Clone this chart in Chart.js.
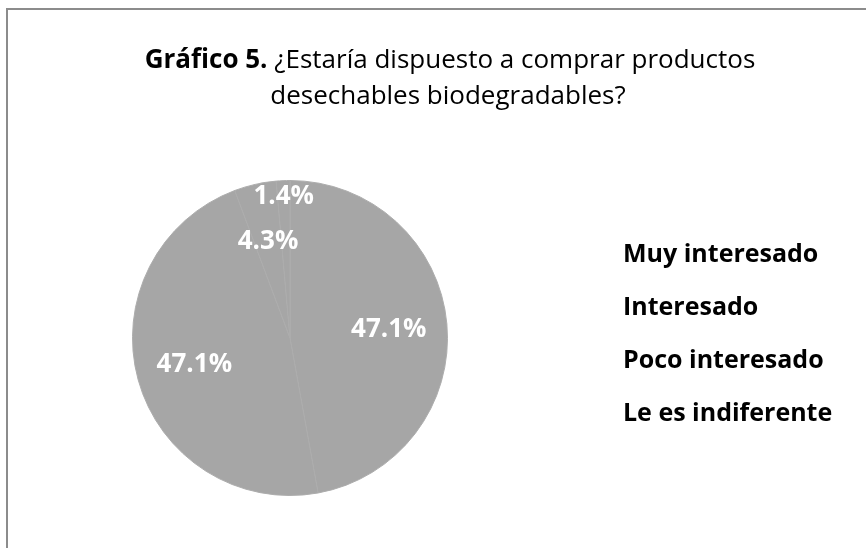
<!DOCTYPE html>
<html>
<head>
<meta charset="utf-8">
<script src="https://cdn.jsdelivr.net/npm/chart.js@4"></script>
<style>
  body { margin: 0; background: #fff; }
  #wrap { width: 866px; height: 548px; }
</style>
</head>
<body>
<div id="wrap"><canvas id="chart" width="866" height="548"></canvas></div>
<script>
const categories = ['Muy interesado', 'Interesado', 'Poco interesado', 'Le es indiferente'];
const percentages = [47.1, 47.1, 4.3, 1.4];
const titleBold = 'Gráfico 5.';
const titleLines = ['¿Estaría dispuesto a comprar productos', 'desechables biodegradables?'];

const FONT = '"Open Sans", Lato, sans-serif';

// frame, title, legend and slice labels are drawn here
const extras = {
  id: 'extras',
  beforeDraw(chart) {
    const ctx = chart.ctx;
    ctx.save();
    ctx.fillStyle = '#fff';
    ctx.fillRect(0, 0, chart.width, chart.height);
    ctx.strokeStyle = '#8c8c8c';
    ctx.lineWidth = 2;
    ctx.beginPath();
    ctx.moveTo(7, chart.height + 5);
    ctx.lineTo(7, 9);
    ctx.lineTo(chart.width + 5, 9);
    ctx.stroke();
    ctx.restore();
  },
  afterDraw(chart) {
    const ctx = chart.ctx;
    ctx.save();

    // title
    ctx.fillStyle = '#000';
    ctx.textBaseline = 'alphabetic';
    ctx.textAlign = 'left';
    ctx.font = 'bold 26px ' + FONT;
    const wb = ctx.measureText(titleBold + ' ').width;
    ctx.font = '26px ' + FONT;
    const w1 = ctx.measureText(titleLines[0]).width;
    let x = 450 - (wb + w1) / 2;
    ctx.font = 'bold 26px ' + FONT;
    ctx.fillText(titleBold, x, 68);
    ctx.font = '26px ' + FONT;
    ctx.fillText(titleLines[0], x + wb, 68);
    ctx.textAlign = 'center';
    ctx.fillText(titleLines[1], 448, 104);

    // legend
    ctx.textAlign = 'left';
    ctx.font = 'bold 25px ' + FONT;
    categories.forEach((c, i) => {
      ctx.fillText(c, 623, 262 + i * 53);
    });

    // percentage labels
    ctx.fillStyle = '#fff';
    ctx.textAlign = 'center';
    ctx.textBaseline = 'middle';
    ctx.font = 'bold 26px ' + FONT;
    const meta = chart.getDatasetMeta(0);
    meta.data.forEach((arc, i) => {
      const p = arc.getProps(['x', 'y', 'startAngle', 'endAngle', 'outerRadius']);
      const mid = (p.startAngle + p.endAngle) / 2;
      const r = p.outerRadius * (percentages[i] < 2 ? 0.9 : 0.63);
      ctx.fillText(percentages[i].toFixed(1) + '%', p.x + Math.cos(mid) * r, p.y + Math.sin(mid) * r);
    });

    ctx.restore();
  }
};

new Chart(document.getElementById('chart'), {
  type: 'pie',
  data: {
    labels: categories,
    datasets: [{
      data: percentages,
      backgroundColor: '#a6a6a6',
      borderColor: '#adadad',
      borderWidth: 1
    }]
  },
  options: {
    responsive: false,
    animation: false,
    layout: { padding: { left: 132, right: 418, top: 180, bottom: 52 } },
    plugins: {
      legend: { display: false },
      title: { display: false },
      tooltip: { enabled: false }
    }
  },
  plugins: [extras]
});
</script>
</body>
</html>
